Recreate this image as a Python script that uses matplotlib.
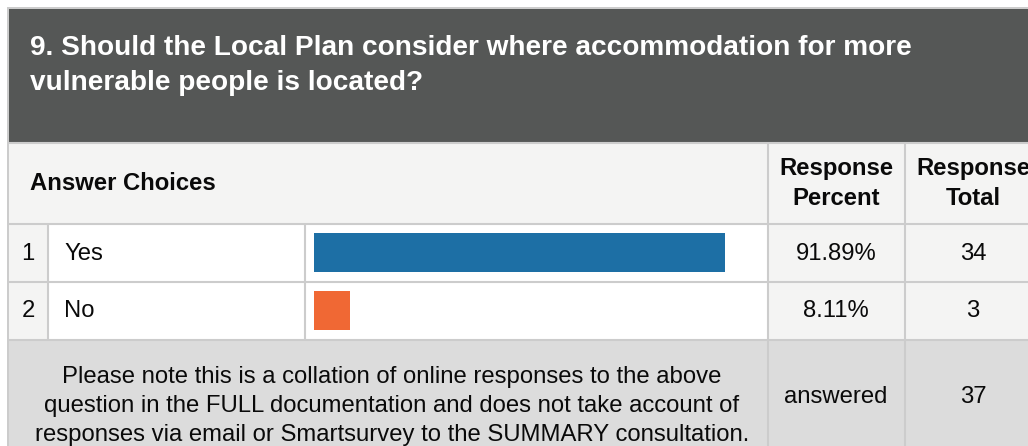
import matplotlib
matplotlib.use("Agg")
import matplotlib.pyplot as plt
from matplotlib.patches import Rectangle

plt.rcParams['font.family'] = ['Liberation Sans', 'DejaVu Sans']

# ---- data ----
title_lines = ["9. Should the Local Plan consider where accommodation for more",
               "vulnerable people is located?"]
header_choices = "Answer Choices"
header_percent = ["Response", "Percent"]
header_total = ["Response", "Total"]
row_numbers = ["1", "2"]
categories = ["Yes", "No"]
percents = [91.89, 8.11]
totals = [34, 3]
bar_colors = ["#1d6fa5", "#f06834"]
note_lines = ["Please note this is a collation of online responses to the above",
              "question in the FULL documentation and does not take account of",
              "responses via email or Smartsurvey to the SUMMARY consultation."]
answered_label = "answered"
answered_total = 37

W, H = 1028, 446
fig = plt.figure(figsize=(W / 100, H / 100), dpi=100)
fig.patch.set_facecolor("white")
ax = fig.add_axes([0, 0, 1, 1])
ax.set_xlim(0, W)
ax.set_ylim(H, 0)
ax.axis("off")

DARK = "#555756"
LIGHT = "#f4f4f3"
FOOT = "#dcdcdc"
GRID = "#cccccc"
TXT = "#0a0a0a"
lw = 1.5

def rect(x0, y0, x1, y1, color):
    ax.add_patch(Rectangle((x0, y0), x1 - x0, y1 - y0, facecolor=color,
                           edgecolor="none", zorder=1))

# outer border
rect(7, 7, W + 5, H + 5, GRID)
# header
rect(9, 9, W + 5, 142, DARK)
# header row
rect(9, 143, W + 5, 223, LIGHT)
# data rows
row_tops = [224, 282]
row_bots = [281, 339]
for t, b in zip(row_tops, row_bots):
    rect(9, t, 48, b, LIGHT)
    rect(48, t, 767, b, "white")
    rect(767, t, W + 5, b, LIGHT)
# footer
rect(9, 340, W + 5, H + 5, FOOT)

# grid lines
for y in [142.5, 223.5, 281.5, 339.5]:
    ax.plot([9, W + 5], [y, y], color=GRID, lw=lw, zorder=2, solid_capstyle="butt")
for x in [48, 305]:
    ax.plot([x, x], [223.5, 339.5], color=GRID, lw=lw, zorder=2, solid_capstyle="butt")
for x in [767.5, 904.5]:
    ax.plot([x, x], [142.5, H + 5], color=GRID, lw=lw, zorder=2, solid_capstyle="butt")

# title
TFS = 20.2
BFS = 17.2
for i, line in enumerate(title_lines):
    ax.text(30, 55 + 35 * i, line, color="white", fontsize=TFS, fontweight="bold",
            ha="left", va="baseline", zorder=3)

# header row text
ax.text(30, 190, header_choices, fontsize=BFS, fontweight="bold", color=TXT,
        ha="left", va="baseline", zorder=3)
for i, line in enumerate(header_percent):
    ax.text(836, 175 + 30 * i, line, fontsize=BFS, fontweight="bold", color=TXT,
            ha="center", va="baseline", zorder=3)
for i, line in enumerate(header_total):
    ax.text(973, 175 + 30 * i, line, fontsize=BFS, fontweight="bold", color=TXT,
            ha="center", va="baseline", zorder=3)

# data rows text
baselines = [260, 317]
for i in range(len(categories)):
    ax.text(28, baselines[i], row_numbers[i], fontsize=BFS, color=TXT,
            ha="center", va="baseline", zorder=3)
    ax.text(64, baselines[i], categories[i], fontsize=BFS, color=TXT,
            ha="left", va="baseline", zorder=3)
    ax.text(836, baselines[i], f"{percents[i]:.2f}%", fontsize=BFS, color=TXT,
            ha="center", va="baseline", zorder=3)
    ax.text(973, baselines[i], str(totals[i]), fontsize=BFS, color=TXT,
            ha="center", va="baseline", zorder=3)

# footer text
for i, line in enumerate(note_lines):
    ax.text(392, 383 + 29 * i, line, fontsize=BFS, color=TXT,
            ha="center", va="baseline", zorder=3)
ax.text(836, 403, answered_label, fontsize=BFS, color=TXT,
        ha="center", va="baseline", zorder=3)
ax.text(973, 403, str(answered_total), fontsize=BFS, color=TXT,
        ha="center", va="baseline", zorder=3)

# bar axes (0-100% scale over the bar cell)
bx0, bx1 = 314, 761
by0, by1 = 224, 339
bax = fig.add_axes([bx0 / W, (H - by1) / H, (bx1 - bx0) / W, (by1 - by0) / H])
bax.set_xlim(0, 100)
bax.set_ylim(len(categories) - 0.5, -0.5)
bax.barh(range(len(categories)), percents, height=0.68, color=bar_colors, zorder=3)
bax.axis("off")
bax.patch.set_alpha(0)

fig.savefig("out.png", dpi=100)
